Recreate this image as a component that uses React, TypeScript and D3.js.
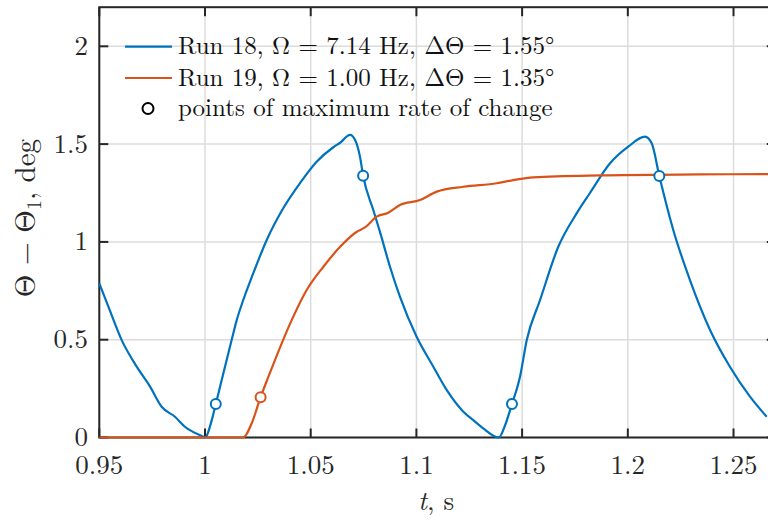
import React, { useRef, useEffect } from 'react';
import * as d3 from 'd3';

// Run 18 (blue)
const run18T = [0.95, 0.9543, 0.9606, 0.9677, 0.974, 0.9795, 0.9858, 0.9905, 0.9984, 1.0, 1.0032, 1.0051, 1.0079, 1.0126, 1.015, 1.0181, 1.0228, 1.0292, 1.037, 1.0449, 1.0528, 1.0607, 1.0639, 1.0686, 1.071, 1.0733, 1.0748, 1.0796, 1.0828, 1.0875, 1.0922, 1.1001, 1.108, 1.1143, 1.1222, 1.1269, 1.1316, 1.139, 1.1415, 1.1452, 1.149, 1.1522, 1.1585, 1.1671, 1.1758, 1.1821, 1.1916, 1.2002, 1.2081, 1.2113, 1.2149, 1.2215, 1.2294, 1.2389, 1.2483, 1.2578, 1.2657];
const run18V = [0.788, 0.669, 0.498, 0.362, 0.26, 0.157, 0.106, 0.055, 0.008, 0.0, 0.089, 0.171, 0.294, 0.498, 0.6, 0.703, 0.839, 1.01, 1.172, 1.3, 1.41, 1.484, 1.507, 1.547, 1.521, 1.436, 1.338, 1.163, 1.05, 0.873, 0.72, 0.515, 0.362, 0.243, 0.132, 0.089, 0.047, 0.0, 0.05, 0.171, 0.311, 0.498, 0.703, 0.975, 1.146, 1.25, 1.402, 1.487, 1.538, 1.504, 1.337, 1.061, 0.805, 0.55, 0.362, 0.209, 0.106];

// Run 19 (orange)
const run19T = [0.95, 1.018, 1.0221, 1.0263, 1.03, 1.0331, 1.041, 1.0481, 1.056, 1.0639, 1.0718, 1.0757, 1.0812, 1.0867, 1.0922, 1.1017, 1.1096, 1.1222, 1.138, 1.1458, 1.1553, 1.1868, 1.2341, 1.27];
const run19V = [0, 0, 0.073, 0.206, 0.311, 0.396, 0.6, 0.754, 0.873, 0.975, 1.052, 1.074, 1.129, 1.149, 1.189, 1.214, 1.257, 1.282, 1.3, 1.316, 1.33, 1.34, 1.345, 1.347];

// points of maximum rate of change
const peak18T = [1.0051, 1.0748, 1.1452, 1.2149];
const peak18V = [0.171, 1.338, 0.171, 1.337];
const peak19T = [1.0263];
const peak19V = [0.206];

const xTicks = [0.95, 1, 1.05, 1.1, 1.15, 1.2, 1.25];
const xTickLabels = ['0.95', '1', '1.05', '1.1', '1.15', '1.2', '1.25'];
const yTicks = [0, 0.5, 1, 1.5, 2];
const yTickLabels = ['0', '0.5', '1', '1.5', '2'];

const legendLabels = [
  'Run 18, Ω = 7.14 Hz, ΔΘ = 1.55°',
  'Run 19, Ω = 1.00 Hz, ΔΘ = 1.35°',
  'points of maximum rate of change',
];

const blue = '#0072BD';
const orange = '#D95319';
const axisColor = '#262626';
const font = '"Latin Modern Roman", "CMU Serif", "Liberation Serif", serif';

const App = () => {
  const svgRef = useRef(null);

  useEffect(() => {
    const svg = d3.select(svgRef.current);
    svg.selectAll('*').remove();

    const margin = { left: 99.3, top: 7.2, right: 775.8, bottom: 437.5 };

    const x = d3.scaleLinear().domain([0.95, 1.27]).range([margin.left, margin.right]);
    const y = d3.scaleLinear().domain([0, 2.2]).range([margin.bottom, margin.top]);

    svg.append('rect').attr('width', 768).attr('height', 521).attr('fill', 'white');

    // grid
    const grid = svg.append('g');
    grid.selectAll('line.vx').data(xTicks).join('line')
      .attr('x1', d => x(d)).attr('x2', d => x(d))
      .attr('y1', margin.top).attr('y2', margin.bottom)
      .attr('stroke', '#dcdcdc').attr('stroke-width', 1.5);
    grid.selectAll('line.hy').data(yTicks).join('line')
      .attr('y1', d => y(d)).attr('y2', d => y(d))
      .attr('x1', margin.left).attr('x2', margin.right)
      .attr('stroke', '#dcdcdc').attr('stroke-width', 1.5);

    // box + ticks
    const ax = svg.append('g').attr('stroke', axisColor).attr('stroke-width', 2);
    ax.append('rect')
      .attr('x', margin.left).attr('y', margin.top)
      .attr('width', margin.right - margin.left).attr('height', margin.bottom - margin.top)
      .attr('fill', 'none');
    const tl = 9;
    xTicks.forEach(t => {
      ax.append('line').attr('x1', x(t)).attr('x2', x(t)).attr('y1', margin.bottom).attr('y2', margin.bottom - tl);
      ax.append('line').attr('x1', x(t)).attr('x2', x(t)).attr('y1', margin.top).attr('y2', margin.top + tl);
    });
    yTicks.forEach(v => {
      ax.append('line').attr('y1', y(v)).attr('y2', y(v)).attr('x1', margin.left).attr('x2', margin.left + tl);
      ax.append('line').attr('y1', y(v)).attr('y2', y(v)).attr('x1', margin.right).attr('x2', margin.right - tl);
    });

    // tick labels
    const labels = svg.append('g').style('font-family', font).attr('fill', axisColor);
    labels.selectAll('text.xt').data(xTicks).join('text')
      .attr('x', d => x(d)).attr('y', 474).attr('text-anchor', 'middle')
      .style('font-size', '27px')
      .text((d, i) => xTickLabels[i]);
    labels.selectAll('text.yt').data(yTicks).join('text')
      .attr('x', 88).attr('y', d => y(d) + 8.5).attr('text-anchor', 'end')
      .style('font-size', '27px')
      .text((d, i) => yTickLabels[i]);

    // axis titles
    const xl = labels.append('text').attr('x', 436).attr('y', 510).attr('text-anchor', 'middle').style('font-size', '27px');
    xl.append('tspan').style('font-style', 'italic').text('t');
    xl.append('tspan').text(', s');

    const yl = labels.append('text').attr('transform', 'translate(35,218) rotate(-90)')
      .attr('text-anchor', 'middle').style('font-size', '29px');
    yl.append('tspan').text('Θ − Θ');
    yl.append('tspan').attr('dy', 6).style('font-size', '20px').text('1');
    yl.append('tspan').attr('dy', -6).text(', deg');

    // data
    const plot = svg.append('g');
    const drawLine = (ts: number[], vs: number[], color: string) => {
      const pts = ts.map((t, i) => [x(t), y(vs[i])] as [number, number]);
      plot.append('path')
        .attr('d', d3.line().curve(d3.curveMonotoneX)(pts))
        .attr('fill', 'none')
        .attr('stroke', color)
        .attr('stroke-width', 2.2)
        .attr('stroke-linejoin', 'round');
    };
    drawLine(run18T, run18V, blue);
    drawLine(run19T, run19V, orange);

    const drawMarkers = (ts: number[], vs: number[], color: string) => {
      plot.selectAll(null).data(ts).join('circle')
        .attr('cx', d => x(d)).attr('cy', (d, i) => y(vs[i])).attr('r', 5)
        .attr('fill', 'white').attr('stroke', color).attr('stroke-width', 2);
    };
    drawMarkers(peak18T, peak18V, blue);
    drawMarkers(peak19T, peak19V, orange);

    // legend (no box)
    const lg = svg.append('g').style('font-family', font).style('font-size', '25px');
    const rowY = [46.7, 78, 108.5];
    const colors = [blue, orange];
    colors.forEach((c, i) => {
      lg.append('line').attr('x1', 125).attr('x2', 172).attr('y1', rowY[i]).attr('y2', rowY[i])
        .attr('stroke', c).attr('stroke-width', 2.2);
    });
    lg.append('circle').attr('cx', 148).attr('cy', rowY[2]).attr('r', 5.5)
      .attr('fill', 'white').attr('stroke', 'black').attr('stroke-width', 2);
    legendLabels.forEach((t, i) => {
      lg.append('text').attr('x', 178).attr('y', rowY[i] + 7.5).attr('fill', '#111').text(t);
    });
  }, []);

  return (
    <svg ref={svgRef} width={768} height={521}
      style={{ position: 'absolute', left: 0, top: 0, display: 'block' }} />
  );
};

export default App;
